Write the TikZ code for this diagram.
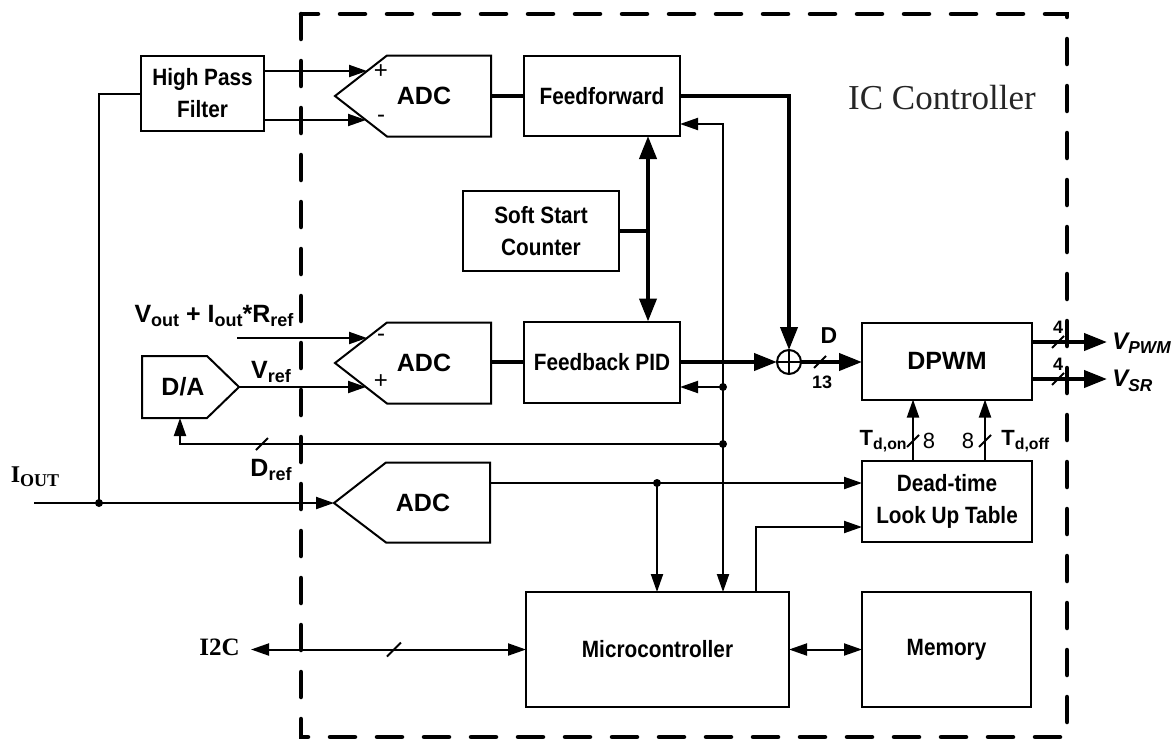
\documentclass[tikz,border=0pt]{standalone}
\usepackage{fontspec}
\usepackage{graphicx}
\setmainfont{Liberation Sans}
\newfontfamily\narrowfam[FakeStretch=0.88]{Liberation Sans}
\newfontfamily\serfam{Liberation Serif}
\usetikzlibrary{arrows.meta}
\newcommand\mysub[1]{\raisebox{-0.35ex}{\scalebox{0.72}{#1}}}
\tikzset{
  ta/.tip={Triangle[length=9pt,width=6pt]},
  tb/.tip={Triangle[length=11.5pt,width=8.5pt]},
  ln/.style={line width=1pt},
  arr/.style={line width=1pt,-ta},
  arr2/.style={line width=1pt,ta-ta},
  bln/.style={line width=2pt},
  barr/.style={line width=2pt,-tb},
  barr2/.style={line width=2pt,tb-tb},
  blk/.style={draw, line width=1pt, align=center, inner sep=1pt, outer sep=0pt,
    font=\narrowfam\bfseries\fontsize{11.8}{16}\selectfont},
  wide/.style={font=\bfseries\fontsize{12.5}{16}\selectfont},
  lbl/.style={inner sep=0pt, font=\bfseries\fontsize{12.5}{14}\selectfont},
  sgn/.style={inner sep=0pt, font=\fontsize{12}{12}\selectfont},
  dot/.style={fill, circle, inner sep=0pt, minimum size=4pt},
  frame/.style={line width=2.25pt, dash pattern=on 12.5pt off 11pt, line cap=round}
}
\begin{document}
\begin{tikzpicture}[x=0.5pt,y=-0.5pt]
\useasboundingbox (0,0) rectangle (1176,739);
% dashed IC boundary
\draw[frame] (301,14) rectangle (1067,737);
\node[font=\serfam\fontsize{17.5}{17.5}\selectfont, text=black!85, inner sep=0pt] (icl) at (942,98) {IC Controller};

% blocks
\node[blk, minimum width=61.5pt, minimum height=37.5pt] (hpf) at (202.5,93.5) {High Pass\\Filter};
\node[blk, minimum width=78pt, minimum height=40pt] (ff) at (602,96) {Feedforward};
\node[blk, minimum width=78pt, minimum height=40pt] (ssc) at (541,231) {Soft Start\\Counter};
\node[blk, minimum width=78pt, minimum height=40.5pt] (pid) at (602,362) {Feedback PID};
\node[blk, wide, minimum width=85pt, minimum height=38.5pt] (dpwm) at (947,361) {DPWM};
\node[blk, minimum width=85pt, minimum height=40.5pt] (dt) at (947,501.5) {Dead-time\\Look Up Table};
\node[blk, minimum width=131.5pt, minimum height=57.5pt] (micro) at (657.5,649.5) {Microcontroller};
\node[blk, minimum width=84.5pt, minimum height=57.5pt] (mem) at (946.5,649.5) {Memory};

% ADC shapes
\draw[ln, line join=miter] (335,96) -- (387,55.5) -- (491,55.5) -- (491,136.5) -- (387,136.5) -- cycle;
\draw[ln, line join=miter] (335,363) -- (387,322.5) -- (491,322.5) -- (491,403.5) -- (387,403.5) -- cycle;
\draw[ln, line join=miter] (334,503) -- (386,462.5) -- (490,462.5) -- (490,542.5) -- (386,542.5) -- cycle;
\node[lbl] (adc1) at (424,96) {ADC};
\node[lbl] (adc2) at (424,363) {ADC};
\node[lbl] (adc3) at (423,503) {ADC};
\coordinate (a1p) at (367,71);
\coordinate (a1m) at (366,120);
\coordinate (a1o) at (491,96);
\coordinate (a2m) at (367,338);
\coordinate (a2p) at (366,387);
\coordinate (a2o) at (491,362);
\coordinate (a3t) at (334,503);
\coordinate (a3o) at (490,483);
\node[sgn] (s1) at (381,72) {+};
\node[sgn] (s2) at (381,119) {-};
\node[sgn] (s3) at (381,338) {-};
\node[sgn] (s4) at (381,382) {+};

% D/A
\draw[ln, line join=miter] (142,356) -- (207,356) -- (239,387) -- (207,418) -- (142,418) -- cycle;
\node[lbl] (da) at (183,387) {D/A};
\coordinate (dat) at (239,387);
\coordinate (dab) at (180,418);

% adder
\node[circle, draw, line width=1pt, minimum size=12pt, inner sep=0pt, outer sep=0pt] (op) at (789,362) {};
\draw[ln] (op.north) -- (op.south) (op.west) -- (op.east);

% input I_OUT
\coordinate (iin) at (34,503);
\coordinate (j0) at (99,503);
\draw[arr] (iin) -- (a3t);
\draw[ln] (j0) |- (hpf.west);
\node[dot] at (j0) {};
\node[inner sep=0pt, font=\serfam\bfseries\fontsize{12}{12}\selectfont] (iout) at (35,477) {I\raisebox{-0.4ex}{\fontsize{9}{9}\selectfont OUT}};

% HPF -> ADC1
\draw[arr] (hpf.east |- a1p) -- (a1p);
\draw[arr] (hpf.east |- a1m) -- (a1m);
\draw[bln] (a1o) -- (ff.west);

% ADC2 inputs
\coordinate (vin) at (237,338);
\draw[arr] (vin) -- (a2m);
\draw[arr] (dat) -- (a2p);
\draw[bln] (a2o) -- (pid.west);
\node[lbl] (vlab) at (214,316) {V\mysub{out} + I\mysub{out}*R\mysub{ref}};
\node[lbl] (vref) at (271,372) {V\mysub{ref}};

% soft start bus
\coordinate (sb) at (648,231);
\draw[bln] (ssc.east |- sb) -- (sb);
\draw[barr2] (ff.south -| sb) -- (pid.north -| sb);

% feedforward / PID to adder
\draw[barr] (ff.east) -| (op.north);
\draw[barr] (pid.east |- op.west) -- (op.west);
\draw[barr] (op.east) -- (op.east -| dpwm.west);
\draw[ln] (820,362) ++(-6,6) -- ++(12,-12);
\node[lbl, font=\bfseries\fontsize{11.5}{12}\selectfont] (dl) at (829,336) {D};
\node[lbl, font=\bfseries\fontsize{9}{9}\selectfont] (n13) at (822,382) {13};

% control bus x=723
\coordinate (bt) at (723,124);
\coordinate (bp) at (723,387);
\coordinate (bd) at (723,444);
\draw[arr2] (bt -| ff.east) -- (bt) -- (bt |- micro.north);
\draw[arr] (bp) -- (bp -| pid.east);
\draw[arr] (bd) -| (dab);
\node[dot] at (bp) {};
\node[dot] at (bd) {};
\draw[ln] (262,444) ++(-6,6) -- ++(12,-12);
\node[lbl] (dref) at (271,470) {D\mysub{ref}};

% ADC3 -> dead time
\coordinate (j3) at (657,483);
\draw[arr] (a3o) -- (a3o -| dt.west);
\draw[arr] (j3) -- (j3 |- micro.north);
\node[dot] at (j3) {};
\coordinate (mu) at (756,527);
\draw[arr] (mu |- micro.north) -- (mu) -- (mu -| dt.west);

% dead time -> DPWM
\coordinate (ton) at (913,441);
\coordinate (toff) at (985,441);
\draw[arr] (ton |- dt.north) -- (ton |- dpwm.south);
\draw[arr] (toff |- dt.north) -- (toff |- dpwm.south);
\draw[ln] (ton) ++(-6,6) -- ++(12,-12);
\draw[ln] (toff) ++(-6,6) -- ++(12,-12);
\node[lbl, font=\bfseries\fontsize{11}{12}\selectfont, anchor=east] (tdon) at (907,441) {T\mysub{d,on}};
\node[lbl, font=\fontsize{11}{12}\selectfont] (e1) at (929,441) {8};
\node[lbl, font=\fontsize{11}{12}\selectfont] (e2) at (968,441) {8};
\node[lbl, font=\bfseries\fontsize{11}{12}\selectfont, anchor=west] (tdoff) at (1001,441) {T\mysub{d,off}};

% DPWM outputs
\coordinate (vp) at (1107,342);
\coordinate (vs) at (1107,379);
\draw[barr] (dpwm.east |- vp) -- (vp);
\draw[barr] (dpwm.east |- vs) -- (vs);
\draw[ln] (1058,342) ++(-6,6) -- ++(12,-12);
\draw[ln] (1058,379) ++(-6,6) -- ++(12,-12);
\node[lbl, font=\bfseries\fontsize{9}{9}\selectfont] (f1) at (1058,327) {4};
\node[lbl, font=\bfseries\fontsize{9}{9}\selectfont] (f2) at (1058,364) {4};
\node[lbl, font=\bfseries\itshape\fontsize{12}{12}\selectfont, anchor=west] (vpwm) at (1112,343) {V\mysub{PWM}};
\node[lbl, font=\bfseries\itshape\fontsize{12}{12}\selectfont, anchor=west] (vsr) at (1112,381) {V\mysub{SR}};

% I2C and memory
\coordinate (ie) at (251,649.5);
\draw[arr2] (ie) -- (micro.west);
\draw[ln] (394,649.5) ++(-7,7) -- ++(14,-14);
\node[inner sep=0pt, font=\serfam\bfseries\fontsize{12.5}{12.5}\selectfont, anchor=east] (i2c) at (240,647) {I2C};
\draw[arr2] (micro.east) -- (mem.west);
\end{tikzpicture}
\end{document}
